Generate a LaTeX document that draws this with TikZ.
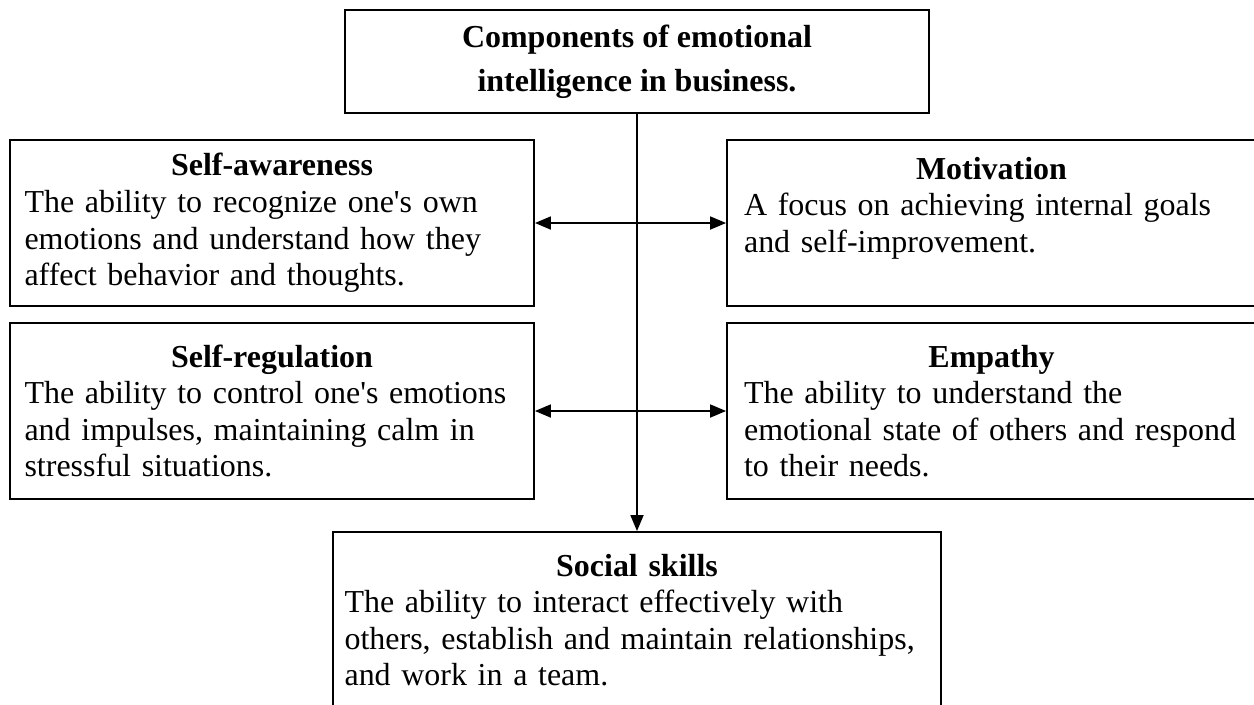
\documentclass[tikz,border=0pt]{standalone}
\usepackage{fontspec}
\setmainfont{Liberation Serif}
\usepackage{tikz}
\usetikzlibrary{arrows.meta,positioning}
\newcommand\bodyfont{\fontsize{18.2}{20.8}\selectfont}
\newcommand\headfont{\fontsize{18.2}{25}\selectfont\bfseries}

\begin{document}
\begin{tikzpicture}[
    x=0.02cm, y=-0.02cm,
    box/.style={draw,line width=1.1pt,inner sep=0pt,font=\bodyfont,align=left},
    sidebox/.style={box,text width=9.9cm,minimum height=3.32cm},
    >={Triangle[length=3.2mm,width=2.6mm]}
]
\useasboundingbox (0,0) rectangle (1254,704);
\clip (0,0) rectangle (1254,704);

% title box
\node[box,font=\headfont,align=center,minimum width=11.68cm,minimum height=2.06cm] (comp) at (637,61.5)
    {Components of emotional\\intelligence in business.};

% the four components
\node[sidebox,minimum width=10.48cm] (selfaw) at (272,223)
    {\makebox[\linewidth]{\bfseries Self-awareness}\\
     The ability to recognize one\textquotesingle s own\\
     emotions and understand how they\\
     affect behavior and thoughts.};
\node[sidebox,minimum width=10.58cm] (motiv) at (991.5,223)
    {\makebox[\linewidth]{\bfseries Motivation}\\
     A focus on achieving internal goals\\
     and self-improvement.\\ \mbox{}};
\node[sidebox,minimum width=10.48cm,minimum height=3.52cm] (selfreg) at (272,411)
    {\makebox[\linewidth]{\bfseries Self-regulation}\\
     \makebox[\linewidth][s]{The ability to control one\textquotesingle s emotions}\\
     \makebox[\linewidth][s]{and impulses, maintaining calm in}\\
     stressful situations.};
\node[sidebox,minimum width=10.58cm,minimum height=3.52cm] (empath) at (991.5,411)
    {\makebox[\linewidth]{\bfseries Empathy}\\
     The ability to understand the\\
     emotional state of others and respond\\
     to their needs.};

% outcome
\node[box,text width=11.7cm,minimum width=12.16cm,minimum height=3.52cm] (social) at (637,620)
    {\makebox[\linewidth]{\bfseries Social skills}\\
     The ability to interact effectively with\\
     others, establish and maintain relationships,\\
     and work in a team.};

\draw[->,line width=1pt] (comp) -- (social);
\draw[<->,line width=1pt] (selfaw) -- (motiv);
\draw[<->,line width=1pt] (selfreg) -- (empath);
\end{tikzpicture}
\end{document}
